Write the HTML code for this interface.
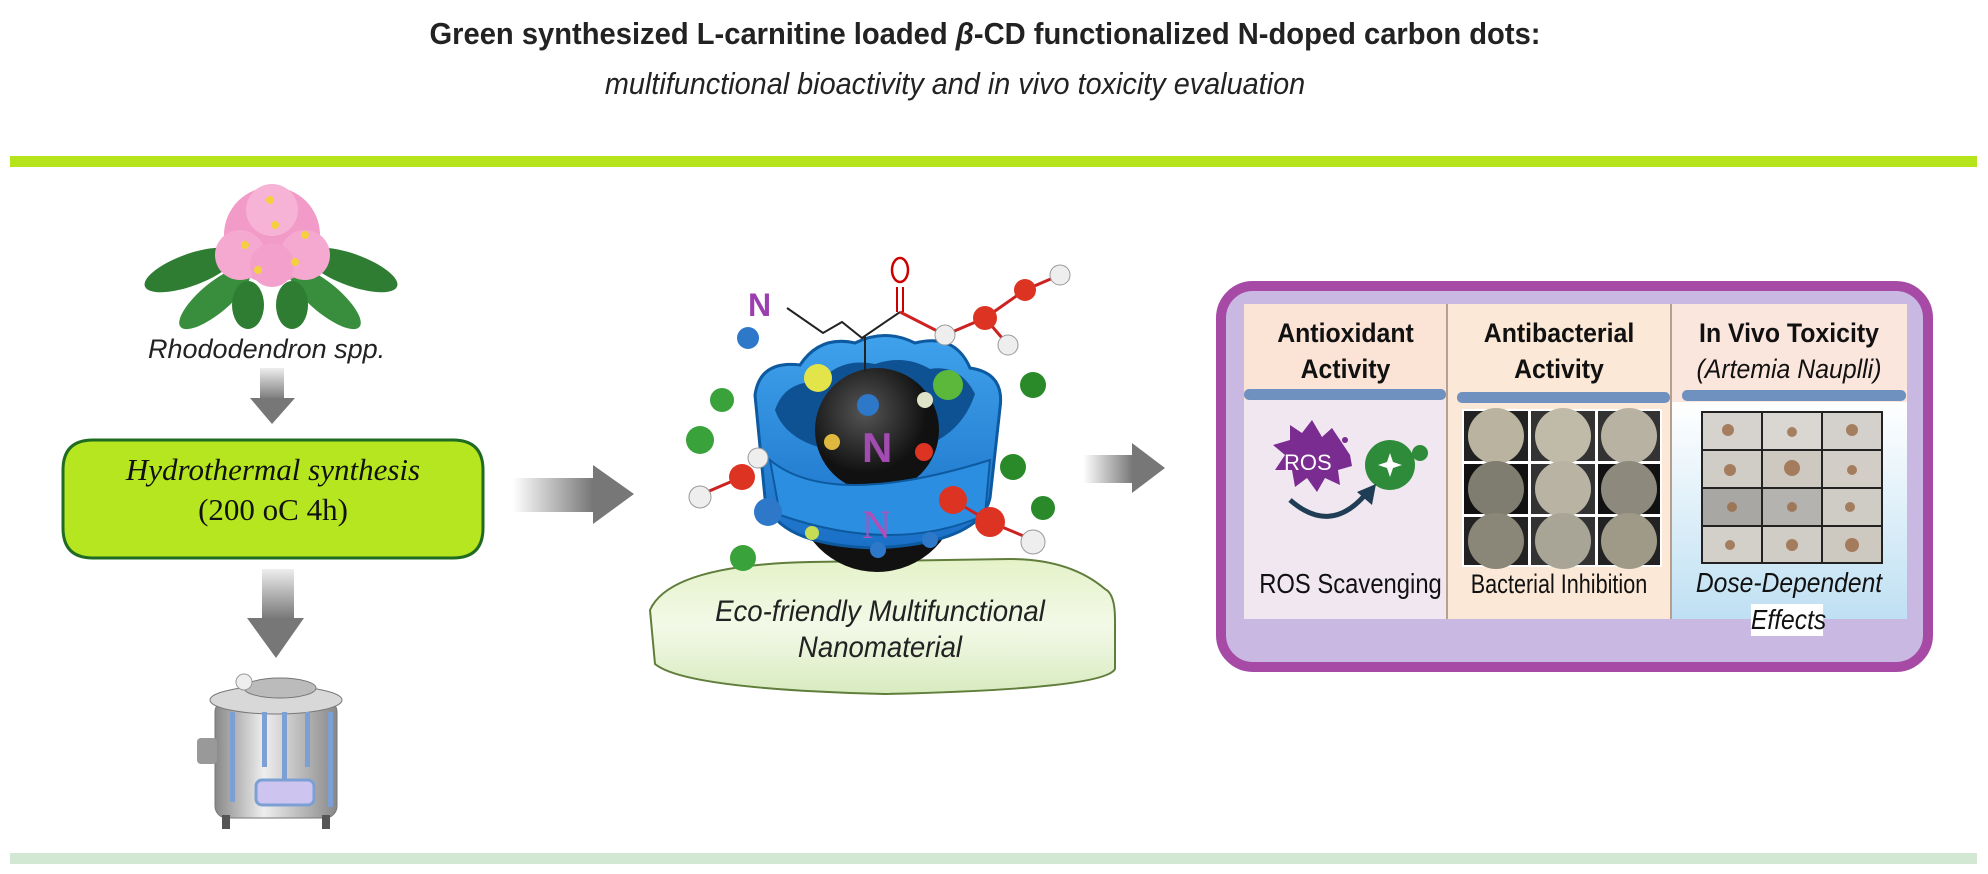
<!DOCTYPE html>
<html><head><meta charset="utf-8"><style>
body{margin:0;width:1988px;height:874px;background:#fff;position:relative;overflow:hidden;font-family:"Liberation Sans",sans-serif}
.a{position:absolute}
.t{position:absolute;white-space:nowrap}
</style></head><body>
<div class="t" style="left:0;width:1970px;top:16px;text-align:center;font-size:31px;font-weight:bold;color:#222;transform:scaleX(0.94);transform-origin:985px 0">Green synthesized L-carnitine loaded <i>β</i>-CD functionalized N-doped carbon dots:</div>
<div class="t" style="left:545px;width:820px;top:66px;text-align:center;font-size:31px;font-style:italic;color:#222;transform:scaleX(0.93)">multifunctional bioactivity and in vivo toxicity evaluation</div>
<div class="a" style="left:10px;top:156px;width:1967px;height:11px;background:#b5e31c"></div>
<div class="a" style="left:10px;top:853px;width:1967px;height:11px;background:#d3e8d2"></div>

<svg class="a" style="left:0;top:0" width="1988" height="874">
<defs>
<linearGradient id="gh" x1="0" x2="1"><stop offset="0" stop-color="#fff"/><stop offset="1" stop-color="#777"/></linearGradient>
<linearGradient id="gv" x1="0" x2="0" y1="0" y2="1"><stop offset="0" stop-color="#eee"/><stop offset="1" stop-color="#777"/></linearGradient>
<radialGradient id="cd" cx=".4" cy=".35"><stop offset="0" stop-color="#555"/><stop offset="1" stop-color="#111"/></radialGradient>
<linearGradient id="met" x1="0" x2="1"><stop offset="0" stop-color="#888"/><stop offset=".4" stop-color="#eee"/><stop offset="1" stop-color="#888"/></linearGradient>
<linearGradient id="eco" x1="0" x2="0" y1="0" y2="1"><stop offset="0" stop-color="#e4f2c8"/><stop offset=".5" stop-color="#f3f9e8"/><stop offset="1" stop-color="#d8ebbf"/></linearGradient>
<linearGradient id="sky" x1="0" x2="0" y1="0" y2="1"><stop offset="0" stop-color="#fff"/><stop offset="1" stop-color="#bfe0f3"/></linearGradient>
<linearGradient id="ring" x1="0" x2="0" y1="0" y2="1"><stop offset="0" stop-color="#3fa2ec"/><stop offset="1" stop-color="#1a6fc6"/></linearGradient>
</defs>
<!-- flower -->
<g>
<ellipse cx="190" cy="270" rx="48" ry="16" fill="#2e7d32" transform="rotate(-20 190 270)"/>
<ellipse cx="352" cy="270" rx="48" ry="16" fill="#2e7d32" transform="rotate(20 352 270)"/>
<ellipse cx="215" cy="298" rx="45" ry="15" fill="#388e3c" transform="rotate(-40 215 298)"/>
<ellipse cx="325" cy="298" rx="45" ry="15" fill="#388e3c" transform="rotate(40 325 298)"/>
<ellipse cx="248" cy="305" rx="16" ry="24" fill="#2e7d32"/><ellipse cx="292" cy="305" rx="16" ry="24" fill="#2e7d32"/>
<circle cx="272" cy="235" r="48" fill="#f29ac8"/>
<circle cx="240" cy="255" r="25" fill="#f5a8d0"/><circle cx="305" cy="255" r="25" fill="#f5a8d0"/>
<circle cx="272" cy="210" r="26" fill="#f7b3d6"/><circle cx="272" cy="265" r="22" fill="#f3a0cc"/>
<g fill="#f4d03f"><circle cx="245" cy="245" r="4"/><circle cx="295" cy="262" r="4"/><circle cx="275" cy="225" r="4"/><circle cx="305" cy="235" r="4"/><circle cx="258" cy="270" r="4"/><circle cx="270" cy="200" r="4"/></g>
</g>
<!-- down arrows -->
<rect x="260" y="368" width="24" height="32" fill="url(#gv)"/><polygon points="250,398 295,398 272,424" fill="#777"/>
<rect x="262" y="569" width="32" height="50" fill="url(#gv)"/><polygon points="247,618 304,618 276,658" fill="#777"/>
<!-- green box -->
<path d="M63,470 q0,-30 30,-30 h360 q30,0 30,30 v58 q0,30 -30,30 h-360 q-30,0 -30,-30 z" fill="#b5e61f" stroke="#1f6b22" stroke-width="3"/>
<!-- vessel -->
<rect x="215" y="700" width="122" height="118" rx="12" fill="url(#met)" stroke="#777"/>
<ellipse cx="276" cy="700" rx="66" ry="14" fill="#d8d8d8" stroke="#777"/>
<ellipse cx="280" cy="688" rx="36" ry="10" fill="#bbb" stroke="#777"/>
<circle cx="244" cy="682" r="8" fill="#eee" stroke="#999"/>
<rect x="197" y="738" width="20" height="26" rx="4" fill="#999"/>
<g fill="#7ca0d4"><rect x="230" y="712" width="5" height="90"/><rect x="262" y="712" width="5" height="55"/><rect x="282" y="712" width="5" height="70"/><rect x="305" y="712" width="5" height="55"/><rect x="328" y="712" width="5" height="95"/></g>
<rect x="256" y="780" width="58" height="25" rx="6" fill="#cdc4ef" stroke="#7ca0d4" stroke-width="3"/>
<rect x="222" y="815" width="8" height="14" fill="#555"/><rect x="322" y="815" width="8" height="14" fill="#555"/>
<!-- right arrows -->
<rect x="513" y="478" width="80" height="34" fill="url(#gh)"/><polygon points="593,465 593,524 634,494" fill="#777"/>
<rect x="1083" y="455" width="50" height="28" fill="url(#gh)"/><polygon points="1132,443 1132,493 1165,468" fill="#777"/>
<!-- eco platform -->
<path d="M650,610 q20,-45 160,-48 l200,-3 q60,0 95,30 q10,5 10,30 v50 q-10,20 -230,25 q-200,-5 -230,-30 z" fill="url(#eco)" stroke="#607d3b" stroke-width="2"/>
<!-- nanoparticle -->
<circle cx="877" cy="490" r="82" fill="url(#cd)"/>
<path d="M755,395 q5,-35 45,-30 q20,-30 55,-22 q30,-15 60,0 q40,-10 55,25 q35,5 30,40 l-10,90 q-10,45 -115,50 q-100,-3 -110,-50 z" fill="url(#ring)" stroke="#0d5aa0" stroke-width="3"/>
<path d="M775,410 q10,-30 45,-28 q20,-25 55,-18 q30,-10 55,5 q30,-5 45,25 q-20,60 -100,60 q-85,0 -100,-44 z" fill="#0e5294"/>
<circle cx="877" cy="430" r="62" fill="url(#cd)"/>
<path d="M770,460 q60,50 220,0 l-5,55 q-90,40 -205,0 z" fill="#2b8ee0" stroke="#0d5aa0" stroke-width="2"/>
<text x="862" y="462" font-size="42" font-weight="bold" fill="#a24bb0">N</text>
<text x="862" y="538" font-size="40" font-family="Liberation Serif" fill="#b04fb8">N</text>
<text x="748" y="316" font-size="32" font-weight="bold" fill="#9b3fb0">N</text>
<polyline points="787,308 823,333 842,322 862,338 900,312" fill="none" stroke="#222" stroke-width="2"/>
<line x1="865" y1="336" x2="865" y2="372" stroke="#222" stroke-width="2"/>
<line x1="897" y1="312" x2="897" y2="287" stroke="#c00" stroke-width="2"/><line x1="903" y1="312" x2="903" y2="287" stroke="#c00" stroke-width="2"/>
<ellipse cx="900" cy="270" rx="8" ry="12" fill="none" stroke="#c00" stroke-width="2.5"/>
<polyline points="900,312 945,335 985,318 1025,290 1060,275" fill="none" stroke="#c22" stroke-width="3"/>
<line x1="985" y1="318" x2="1008" y2="345" stroke="#c22" stroke-width="3"/>
<g>
<circle cx="945" cy="335" r="10" fill="#eee" stroke="#999"/><circle cx="985" cy="318" r="12" fill="#d32"/><circle cx="1025" cy="290" r="11" fill="#d32"/><circle cx="1060" cy="275" r="10" fill="#eee" stroke="#999"/><circle cx="1008" cy="345" r="10" fill="#eee" stroke="#999"/>
<circle cx="748" cy="338" r="11" fill="#2d78c8"/>
<circle cx="722" cy="400" r="12" fill="#3aa23a"/><circle cx="700" cy="440" r="14" fill="#3aa23a"/>
<circle cx="743" cy="558" r="13" fill="#3aa23a"/><circle cx="1033" cy="385" r="13" fill="#2a8a2a"/><circle cx="1013" cy="467" r="13" fill="#2a8a2a"/><circle cx="1043" cy="508" r="12" fill="#2a8a2a"/><circle cx="948" cy="385" r="15" fill="#5bb83a"/>
<line x1="700" y1="495" x2="742" y2="477" stroke="#c22" stroke-width="3"/>
<circle cx="742" cy="477" r="13" fill="#d32"/><circle cx="700" cy="497" r="11" fill="#eee" stroke="#999"/><circle cx="758" cy="458" r="10" fill="#eee" stroke="#999"/>
<line x1="953" y1="500" x2="990" y2="522" stroke="#c22" stroke-width="3"/><line x1="990" y1="522" x2="1033" y2="540" stroke="#c22" stroke-width="3"/>
<circle cx="953" cy="500" r="14" fill="#d32"/><circle cx="990" cy="522" r="15" fill="#d32"/><circle cx="1033" cy="542" r="12" fill="#eee" stroke="#999"/>
<circle cx="768" cy="512" r="14" fill="#2d78c8"/><circle cx="930" cy="540" r="8" fill="#2d78c8"/><circle cx="878" cy="550" r="8" fill="#2d78c8"/><circle cx="868" cy="405" r="11" fill="#2d78c8"/>
<circle cx="818" cy="378" r="14" fill="#e3e34a"/><circle cx="832" cy="442" r="8" fill="#e0b840"/><circle cx="924" cy="452" r="9" fill="#d32"/><circle cx="925" cy="400" r="8" fill="#dfe3c8"/><circle cx="812" cy="533" r="7" fill="#c6dc55"/>
</g>
<!-- purple box -->
<rect x="1221" y="286" width="707" height="381" rx="32" fill="#c9b8e2" stroke="#a64aa6" stroke-width="10"/>
<rect x="1244" y="304" width="203" height="315" fill="#fbe3d6"/>
<rect x="1244" y="400" width="203" height="219" fill="#f1e7f1"/>
<rect x="1447" y="304" width="224" height="315" fill="#fbe8d6"/>
<rect x="1671" y="304" width="236" height="315" fill="#fbe6dd"/>
<rect x="1671" y="402" width="236" height="217" fill="url(#sky)"/>
<line x1="1447" y1="304" x2="1447" y2="619" stroke="#b8a090" stroke-width="2"/>
<line x1="1671" y1="304" x2="1671" y2="619" stroke="#b8a090" stroke-width="2"/>
<rect x="1244" y="389" width="202" height="11" rx="5" fill="#6f91c0"/>
<rect x="1457" y="392" width="213" height="11" rx="5" fill="#6f91c0"/>
<rect x="1682" y="390" width="224" height="11" rx="5" fill="#6f91c0"/>
<polygon points="1350,455 1340,440 1332,428 1322,437 1312,420 1302,433 1290,425 1290,440 1273,445 1285,455 1275,470 1292,470 1295,487 1307,478 1317,492 1325,478 1340,485 1338,470 1352,466" fill="#7a2c91"/>
<circle cx="1345" cy="440" r="3" fill="#7a2c91"/>
<text x="1284" y="470" font-size="22" fill="#fff">ROS</text>
<circle cx="1390" cy="465" r="25" fill="#2e8b3a"/><circle cx="1420" cy="453" r="8" fill="#2e8b3a"/><polygon points="1365,465 1375,458 1375,472" fill="#2e8b3a"/>
<polygon points="1390,453 1394,465 1390,477 1386,465" fill="#fff"/><polygon points="1378,465 1390,461 1402,465 1390,469" fill="#fff"/>
<path d="M1290,500 q40,35 75,-5" fill="none" stroke="#1f3d55" stroke-width="5"/><polygon points="1357,492 1376,484 1372,505" fill="#1f3d55"/>
<g stroke="#fff" stroke-width="2">
<rect x="1463" y="410" width="66" height="52" fill="#222"/><rect x="1530" y="410" width="66" height="52" fill="#333"/><rect x="1597" y="410" width="64" height="52" fill="#333"/>
<rect x="1463" y="463" width="66" height="52" fill="#111"/><rect x="1530" y="463" width="66" height="52" fill="#333"/><rect x="1597" y="463" width="64" height="52" fill="#111"/>
<rect x="1463" y="516" width="66" height="50" fill="#222"/><rect x="1530" y="516" width="66" height="50" fill="#333"/><rect x="1597" y="516" width="64" height="50" fill="#222"/>
</g>
<g>
<circle cx="1496" cy="436" r="28" fill="#b9b3a0"/><circle cx="1563" cy="436" r="28" fill="#c0baa8"/><circle cx="1629" cy="436" r="28" fill="#b8b2a2"/>
<circle cx="1496" cy="489" r="28" fill="#7f7d70"/><circle cx="1563" cy="489" r="28" fill="#b8b3a3"/><circle cx="1629" cy="489" r="28" fill="#8d8a7d"/>
<circle cx="1496" cy="541" r="28" fill="#8a8778"/><circle cx="1563" cy="541" r="28" fill="#a8a597"/><circle cx="1629" cy="541" r="28" fill="#9f9a88"/>
</g>
<g stroke="#222" stroke-width="2">
<rect x="1702" y="412" width="60" height="38" fill="#d6d3cf"/><rect x="1762" y="412" width="60" height="38" fill="#dad7d2"/><rect x="1822" y="412" width="60" height="38" fill="#d4d1cc"/>
<rect x="1702" y="450" width="60" height="38" fill="#d0ccc6"/><rect x="1762" y="450" width="60" height="38" fill="#cdc8c0"/><rect x="1822" y="450" width="60" height="38" fill="#d2cdc6"/>
<rect x="1702" y="488" width="60" height="38" fill="#a9a7a4"/><rect x="1762" y="488" width="60" height="38" fill="#b5b3b0"/><rect x="1822" y="488" width="60" height="38" fill="#cfcbc5"/>
<rect x="1702" y="526" width="60" height="37" fill="#d3cfc9"/><rect x="1762" y="526" width="60" height="37" fill="#d0ccc6"/><rect x="1822" y="526" width="60" height="37" fill="#cdc8c0"/>
</g>
<g fill="#9a6a45" opacity=".8">
<circle cx="1728" cy="430" r="6"/><circle cx="1792" cy="432" r="5"/><circle cx="1852" cy="430" r="6"/><circle cx="1730" cy="470" r="6"/><circle cx="1792" cy="468" r="8"/><circle cx="1852" cy="470" r="5"/><circle cx="1732" cy="507" r="5"/><circle cx="1792" cy="507" r="5"/><circle cx="1850" cy="507" r="5"/><circle cx="1730" cy="545" r="5"/><circle cx="1792" cy="545" r="6"/><circle cx="1852" cy="545" r="7"/>
</g>
<rect x="1786" y="592" width="0" height="0"/>
</svg>
<div class="t" style="left:148px;width:230px;top:334px;text-align:center;font-size:27px;font-style:italic;color:#222">Rhododendron spp.</div>
<div class="t" style="left:63px;width:420px;top:452px;text-align:center;font-family:'Liberation Serif',serif;font-size:31px;font-style:italic;color:#111">Hydrothermal synthesis</div>
<div class="t" style="left:63px;width:420px;top:492px;text-align:center;font-family:'Liberation Serif',serif;font-size:31px;color:#111">(200 oC 4h)</div>
<div class="t" style="left:650px;width:460px;top:594px;text-align:center;font-size:30px;font-style:italic;color:#222;line-height:36px;transform:scaleX(0.92)">Eco-friendly Multifunctional<br>Nanomaterial</div>
<div class="t" style="left:1244px;width:203px;top:315px;text-align:center;font-size:27px;font-weight:bold;color:#111;line-height:36px;transform:scaleX(0.92)">Antioxidant<br>Activity</div>
<div class="t" style="left:1447px;width:224px;top:315px;text-align:center;font-size:27px;font-weight:bold;color:#111;line-height:36px;transform:scaleX(0.92)">Antibacterial<br>Activity</div>
<div class="t" style="left:1671px;width:236px;top:315px;text-align:center;font-size:27px;font-weight:bold;color:#111;line-height:36px;transform:scaleX(0.92)">In Vivo Toxicity<br><span style="font-weight:normal;font-style:italic">(Artemia Nauplli)</span></div>
<div class="t" style="left:1244px;width:203px;top:568px;text-align:center;font-size:28px;color:#111;transform:scaleX(0.85)">ROS Scavenging</div>
<div class="t" style="left:1447px;width:224px;top:569px;text-align:center;font-size:27px;color:#111;transform:scaleX(0.8)">Bacterial Inhibition</div>
<div class="t" style="left:1671px;width:236px;top:567px;text-align:center;font-size:28px;font-style:italic;color:#111;transform:scaleX(0.88)">Dose-Dependent</div>
<div class="t" style="left:1746px;width:82px;top:604px;text-align:center;font-size:28px;font-style:italic;color:#111;background:#fff;transform:scaleX(0.88)">Effects</div>
</body></html>
